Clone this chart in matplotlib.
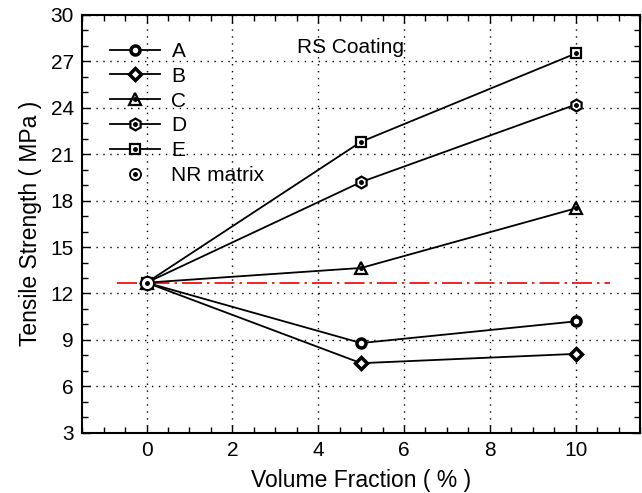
import matplotlib.pyplot as plt
from matplotlib.ticker import MultipleLocator
from matplotlib.lines import Line2D

plt.rcParams['font.family'] = ['Liberation Sans', 'DejaVu Sans']

# data
x = [0, 5, 10]
series = {
    "A": [12.7, 8.8, 10.2],
    "B": [12.7, 7.5, 8.1],
    "C": [12.7, 13.65, 17.5],
    "D": [12.7, 19.2, 24.2],
    "E": [12.7, 21.8, 27.5],
}
nr_matrix = 12.7
markers = {"A": "o", "B": "D", "C": "^", "D": "h", "E": "s"}
sizes = {"A": 6.5, "B": 6, "C": 8.5, "D": 8.5, "E": 6.5}
dotted = {"A": False, "B": False, "C": True, "D": True, "E": True}

fig, ax = plt.subplots(figsize=(6.42, 4.93), dpi=100)
fig.subplots_adjust(left=0.128, right=0.997, top=0.97, bottom=0.122)

handles = []
for name, vals in series.items():
    mew = 1.6 if dotted[name] else 2.5
    ax.plot(x, vals, color='black', lw=1.3, zorder=3)
    ax.plot(x, vals, ls='none', marker=markers[name], ms=sizes[name],
            mfc='white', mec='black', mew=mew, zorder=4)
    if dotted[name]:
        ax.plot(x, vals, ls='none', marker='o', ms=2.5, color='black', zorder=5)
    h = Line2D([], [], color='black', lw=1.3, marker=markers[name],
               ms=sizes[name], mfc='white', mec='black', mew=mew)
    if dotted[name]:
        h = (h, Line2D([], [], ls='none', marker='o', ms=2.5, color='black'))
    handles.append(h)

ax.plot([-0.7, 10.8], [nr_matrix, nr_matrix], color='#ee0000', lw=1.2,
        dashes=[12, 3, 1.5, 3], zorder=2)
ax.plot([0], [nr_matrix], ls='none', marker='o', ms=9.5, mfc='white', mec='black', mew=1.5, zorder=6)
ax.plot([0], [nr_matrix], ls='none', marker='o', ms=2.5, color='black', zorder=7)
handles.append((Line2D([], [], ls='none', marker='o', ms=8, mfc='white', mec='black', mew=1.3),
                Line2D([], [], ls='none', marker='o', ms=2.5, color='black')))

leg = ax.legend(handles, list(series.keys()) + ["NR matrix"], loc='upper left',
                bbox_to_anchor=(0.035, 0.955), frameon=False, fontsize=15,
                handlelength=2.4, labelspacing=0.28, handletextpad=0.55,
                borderaxespad=0)

ax.text(4.75, 27.9, "RS Coating", fontsize=15, ha='center', va='center')

ax.set_xlim(-1.5, 11.5)
ax.set_ylim(3, 30)
ax.xaxis.set_major_locator(MultipleLocator(2))
ax.xaxis.set_minor_locator(MultipleLocator(0.5))
ax.yaxis.set_major_locator(MultipleLocator(3))
ax.yaxis.set_minor_locator(MultipleLocator(1))
ax.tick_params(which='both', direction='in', top=True, right=True, labelsize=15)
ax.tick_params(which='major', length=6, width=1, pad=6)
ax.tick_params(which='minor', length=4, width=1)
ax.grid(True, which='major', ls=(0, (1, 4)), color='black', lw=1)
for s in ax.spines.values():
    s.set_linewidth(1.5)

ax.set_xlabel("Volume Fraction ( % )", fontsize=16.5, labelpad=6)
ax.set_ylabel("Tensile Strength ( MPa )", fontsize=16.5, labelpad=6)

fig.savefig("out.png", dpi=100)
